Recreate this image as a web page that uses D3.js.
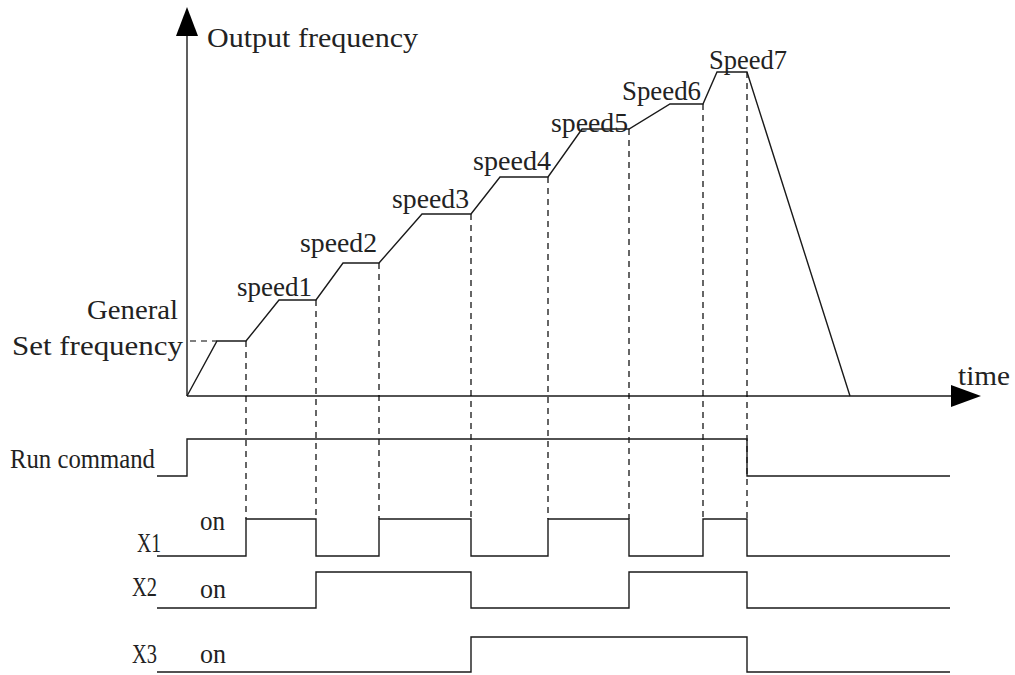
<!DOCTYPE html>
<html><head><meta charset="utf-8">
<script src="https://cdn.jsdelivr.net/npm/d3@7"></script>
<style>html,body{margin:0;padding:0;background:#fff;}svg{display:block;}</style>
</head><body><svg id="c" width="1015" height="675"></svg>
<script>
// ---- data (time units / frequency units) ----
const profileTimes = [0, 30, 59, 92, 129, 156, 192, 235, 284, 313, 361, 395, 442, 483, 516, 530, 560, 663];
const profileFreqs = [0, 55, 55, 96, 96, 133, 133, 182, 182, 219, 219, 267, 267, 292, 292, 324, 324, 0];
const switchTimes = [59, 129, 192, 284, 361, 442, 516, 560];
const switchFreqs = [55, 96, 133, 182, 219, 267, 292, 324];
const speedLabels = ["speed1", "speed2", "speed3", "speed4", "speed5", "Speed6", "Speed7"];
const signalNames = ["Run command", "X1", "X2", "X3"];
const signalEdges = [[-30, 0, 560, 763], [-30, 59, 129, 192, 284, 361, 442, 516, 560, 763], [-30, 129, 284, 442, 560, 763], [-30, 284, 560, 763]];
const signalStates = [[0, 1, 0], [0, 1, 0, 1, 0, 1, 0, 1, 0], [0, 1, 0, 1, 0], [0, 1, 0]];
const generalSet = 55;

// ---- layout ----
const svg = d3.select("#c");
const x = d3.scaleLinear().domain([0, 763]).range([187, 950]);
const y = d3.scaleLinear().domain([0, 384]).range([396, 12]);
const FONT = "'Liberation Serif', 'DejaVu Serif', serif";
const ink = "#1a1a1a";
const sig = [{lo: 476, hi: 439}, {lo: 556, hi: 519}, {lo: 608, hi: 572}, {lo: 672, hi: 637}];

function text(str, tx, ty, w, size) {
  svg.append("text").attr("x", tx).attr("y", ty).text(str)
    .attr("font-family", FONT).attr("font-size", size || 27).attr("fill", "#222")
    .attr("textLength", w).attr("lengthAdjust", "spacingAndGlyphs");
}

// axes
svg.append("line").attr("x1", x(0)).attr("y1", y(0)).attr("x2", x(0)).attr("y2", 36)
  .attr("stroke", ink).attr("stroke-width", 1.4);
svg.append("path").attr("d", `M${x(0)},7 L${x(0) - 11},36 L${x(0) + 11},36 Z`).attr("fill", "#000");
svg.append("line").attr("x1", x(0)).attr("y1", y(0)).attr("x2", 951).attr("y2", y(0))
  .attr("stroke", ink).attr("stroke-width", 1.4);
svg.append("path").attr("d", `M981,${y(0)} L951,${y(0) - 11} L951,${y(0) + 11} Z`).attr("fill", "#000");

// dashed lines
const dash = "6,5";
svg.append("line").attr("x1", x(0) + 3).attr("x2", x(30)).attr("y1", y(generalSet)).attr("y2", y(generalSet))
  .attr("stroke", "#000").attr("stroke-width", 1.2).attr("stroke-dasharray", dash);
svg.selectAll("line.vd").data(switchTimes).enter().append("line").attr("class", "vd")
  .attr("x1", d => x(d)).attr("x2", d => x(d))
  .attr("y1", (d, i) => y(switchFreqs[i])).attr("y2", sig[1].hi)
  .attr("stroke", "#000").attr("stroke-width", 1.2).attr("stroke-dasharray", dash);

// frequency profile
const line = d3.line().x(d => x(d[0])).y(d => y(d[1]));
svg.append("path").attr("d", line(profileTimes.map((t, i) => [t, profileFreqs[i]])))
  .attr("fill", "none").attr("stroke", ink).attr("stroke-width", 1.4);

// signals
signalEdges.forEach((edges, k) => {
  const pts = [];
  signalStates[k].forEach((s, i) => {
    const yy = s ? sig[k].hi : sig[k].lo;
    pts.push([x(edges[i]), yy]);
    pts.push([x(edges[i + 1]), yy]);
  });
  svg.append("path").attr("d", d3.line()(pts)).attr("fill", "none").attr("stroke", ink).attr("stroke-width", 1.4);
});

// labels
text("Output frequency", 207, 47, 211);
text("General", 87, 319, 91);
text("Set frequency", 12, 355, 171);
text("time", 958, 385, 52);
const speedPos = [[237, 296, 75], [300, 252, 77], [392, 208, 77], [473, 170, 78], [551, 132, 77], [622, 100, 79], [709, 69, 78]];
speedLabels.forEach((s, i) => text(s, speedPos[i][0], speedPos[i][1], speedPos[i][2]));
text(signalNames[0], 10, 468, 145);
text(signalNames[1], 137, 552, 24);
text(signalNames[2], 132, 596, 25);
text(signalNames[3], 132, 663, 25);
text("on", 200, 530, 25);
text("on", 200, 598, 26);
text("on", 200, 663, 26);
</script></body></html>
